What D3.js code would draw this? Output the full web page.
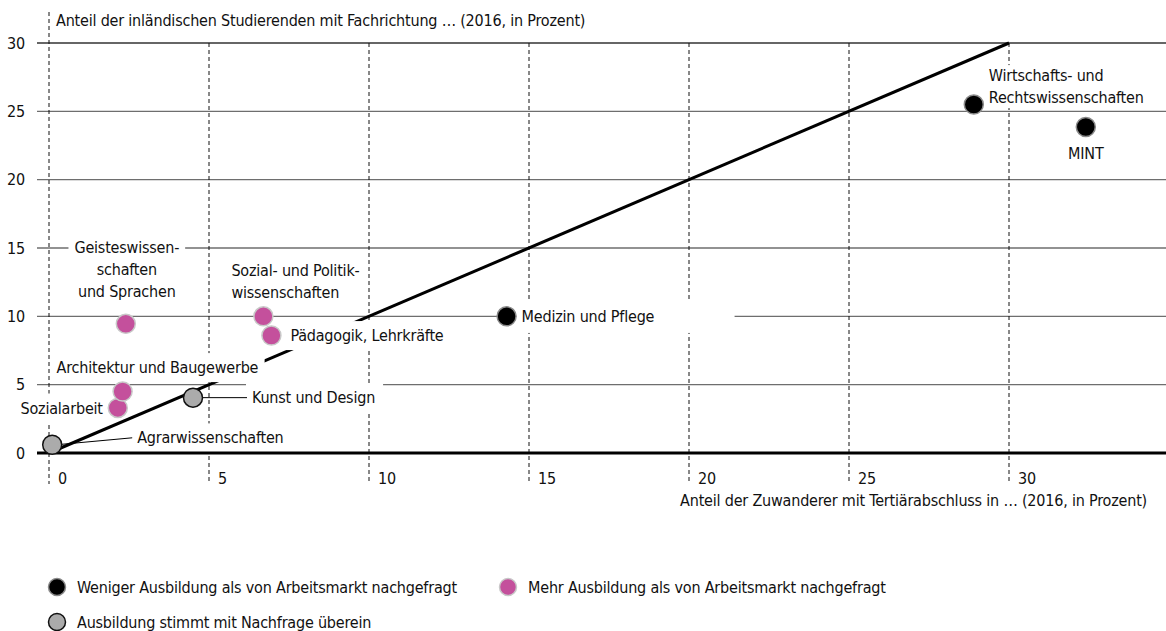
<!DOCTYPE html>
<html>
<head>
<meta charset="utf-8">
<script src="https://cdn.jsdelivr.net/npm/d3@7"></script>
<style>
  html, body { margin: 0; padding: 0; background: #fff; }
  svg { display: block; }
  text { font-family: 'DejaVu Sans Condensed', 'Liberation Sans Narrow', 'Roboto', sans-serif; font-size: 16px; letter-spacing: -0.2px; fill: #111; }
</style>
</head>
<body>
<script>
// ---------- data ----------
const categories = ["Agrarwissenschaften", "Kunst und Design", "Sozialarbeit", "Architektur und Baugewerbe",
  "Geisteswissenschaften und Sprachen", "Sozial- und Politikwissenschaften", "Pädagogik, Lehrkräfte",
  "Medizin und Pflege", "Wirtschafts- und Rechtswissenschaften", "MINT"];
const xValues = [0.1, 4.5, 2.15, 2.3, 2.4, 6.7, 6.95, 14.3, 28.9, 32.4];
const yValues = [0.6, 4.05, 3.3, 4.5, 9.45, 10.0, 8.6, 10.0, 25.5, 23.85];
const groups  = ["gleich", "gleich", "mehr", "mehr", "mehr", "mehr", "mehr", "weniger", "weniger", "weniger"];
const labelLines = [
  ["Agrarwissenschaften"], ["Kunst und Design"], ["Sozialarbeit"], ["Architektur und Baugewerbe"],
  ["Geisteswissen-", "schaften", "und Sprachen"], ["Sozial- und Politik-", "wissenschaften"],
  ["Pädagogik, Lehrkräfte"], ["Medizin und Pflege"], ["Wirtschafts- und", "Rechtswissenschaften"], ["MINT"]
];
const xTicks = [0, 5, 10, 15, 20, 25, 30];
const yTicks = [0, 5, 10, 15, 20, 25, 30];
const diagonalX = [0, 30];
const diagonalY = [0, 30];
const legendKeys = ["weniger", "mehr", "gleich"];
const legendLabels = ["Weniger Ausbildung als von Arbeitsmarkt nachgefragt",
  "Mehr Ausbildung als von Arbeitsmarkt nachgefragt",
  "Ausbildung stimmt mit Nachfrage überein"];
const yTitle = "Anteil der inländischen Studierenden mit Fachrichtung … (2016, in Prozent)";
const xTitle = "Anteil der Zuwanderer mit Tertiärabschluss in … (2016, in Prozent)";

// ---------- styles / layout ----------
const W = 1166, H = 631;
const fills   = { weniger: "#000000", mehr: "#c4509c", gleich: "#ababab" };
const strokes = { weniger: "#8a8a8a", mehr: "#c8c8c8", gleich: "#111111" };
// label placement relative to point (pixels)
const labelLayout = [
  { dx: 85,  dy: -7,  anchor: "start",  leader: "diag" },
  { dx: 59,  dy: 0,   anchor: "start",  leader: "horiz", padRight: 8 },
  { dx: -15, dy: 0,   anchor: "end" },
  { dx: -66, dy: -24, anchor: "start" },
  { dx: 1,   dy: -76, anchor: "middle" },
  { dx: -32, dy: -46, anchor: "start" },
  { dx: 19,  dy: 0,   anchor: "start" },
  { dx: 15,  dy: 0,   anchor: "start", padRight: 80, padY: 7 },
  { dx: 15,  dy: -29, anchor: "start", padY: 1 },
  { dx: 0,   dy: 26,  anchor: "middle" }
];
const lineH = 22;

const x = d3.scaleLinear().domain([0, 30]).range([49, 1009]);
const y = d3.scaleLinear().domain([0, 30]).range([453, 43]);
const gridLeft = 37, gridRight = W;

const svg = d3.select("body").append("svg").attr("width", W).attr("height", H);

const gGrid = svg.append("g");
const gDash = svg.append("g");
const gDiag = svg.append("g");
const gLead = svg.append("g");
const gBox = svg.append("g");
const gLab = svg.append("g");
const gAxis = svg.append("g");
const gPts = svg.append("g");
const gLeg = svg.append("g");

// horizontal gridlines
gGrid.selectAll("line").data(yTicks.filter(d => d !== 0)).join("line")
  .attr("x1", gridLeft).attr("x2", gridRight)
  .attr("y1", d => y(d)).attr("y2", d => y(d))
  .attr("stroke", d => d === 30 ? "#333" : "#6e6e6e").attr("stroke-width", 1.3);

// y tick labels
gGrid.selectAll("text").data(yTicks).join("text")
  .attr("x", 25).attr("y", d => y(d)).attr("dy", "0.35em")
  .attr("text-anchor", "end").text(d => d);

// vertical dashed lines
gDash.selectAll("line").data(xTicks).join("line")
  .attr("x1", d => x(d)).attr("x2", d => x(d))
  .attr("y1", d => d === 0 ? 12 : y(30)).attr("y2", 484)
  .attr("stroke", "#111").attr("stroke-width", 1).attr("stroke-dasharray", "4,3");

// x tick labels
gDash.selectAll("text").data(xTicks).join("text")
  .attr("x", d => x(d) + 9).attr("y", 478).attr("dy", "0.35em").text(d => d);

// titles
svg.append("text").attr("x", 56).attr("y", 20).attr("dy", "0.35em").text(yTitle);
svg.append("text").attr("x", 1147).attr("y", 500).attr("dy", "0.35em").attr("text-anchor", "end").text(xTitle);

// diagonal
gDiag.append("line")
  .attr("x1", x(diagonalX[0])).attr("y1", y(diagonalY[0]))
  .attr("x2", x(diagonalX[1])).attr("y2", y(diagonalY[1]))
  .attr("stroke", "#000").attr("stroke-width", 3);

// zero axis
gAxis.append("line").attr("x1", gridLeft).attr("x2", gridRight)
  .attr("y1", y(0)).attr("y2", y(0)).attr("stroke", "#000").attr("stroke-width", 3);

const R = 9.5;
const pts = categories.map((c, i) => ({ c, px: x(xValues[i]), py: y(yValues[i]), g: groups[i], lines: labelLines[i], lay: labelLayout[i] }));

// labels + boxes + leaders
pts.forEach(p => {
  const L = p.lay;
  const tx = p.px + L.dx, ty = p.py + L.dy;
  const t = gLab.append("text").attr("text-anchor", L.anchor);
  p.lines.forEach((ln, k) => {
    t.append("tspan").attr("x", tx).attr("y", ty + k * lineH).attr("dy", "0.35em").text(ln);
  });
  const bb = t.node().getBBox();
  const padX = 6, padY = L.padY !== undefined ? L.padY : 5;
  const padR = L.padRight !== undefined ? L.padRight : padX;
  gBox.append("rect")
    .attr("x", bb.x - padX).attr("y", bb.y - padY)
    .attr("width", bb.width + padX + padR)
    .attr("height", bb.height + padY * 2).attr("fill", "#fff");
  if (L.leader === "diag") {
    gLead.append("line").attr("x1", p.px + 4).attr("y1", p.py).attr("x2", tx - 5).attr("y2", ty)
      .attr("stroke", "#000").attr("stroke-width", 1);
  } else if (L.leader === "horiz") {
    gLead.append("line").attr("x1", p.px + R).attr("y1", p.py).attr("x2", tx - 5).attr("y2", ty)
      .attr("stroke", "#000").attr("stroke-width", 1);
  }
});
gLead.raise(); gLab.raise(); gAxis.raise(); gPts.raise();

// points
gPts.selectAll("circle").data(pts).join("circle")
  .attr("cx", d => d.px).attr("cy", d => d.py).attr("r", R)
  .attr("fill", d => fills[d.g]).attr("stroke", d => strokes[d.g]).attr("stroke-width", 1.5);

// legend
const legPos = [{ cx: 57, cy: 587 }, { cx: 508, cy: 587 }, { cx: 57, cy: 622 }];
legendKeys.forEach((k, i) => {
  const p = legPos[i];
  gLeg.append("circle").attr("cx", p.cx).attr("cy", p.cy).attr("r", 8.5)
    .attr("fill", fills[k]).attr("stroke", strokes[k]).attr("stroke-width", 1.5);
  gLeg.append("text").attr("x", p.cx + 20).attr("y", p.cy).attr("dy", "0.35em").text(legendLabels[i]);
});
</script>
</body>
</html>
